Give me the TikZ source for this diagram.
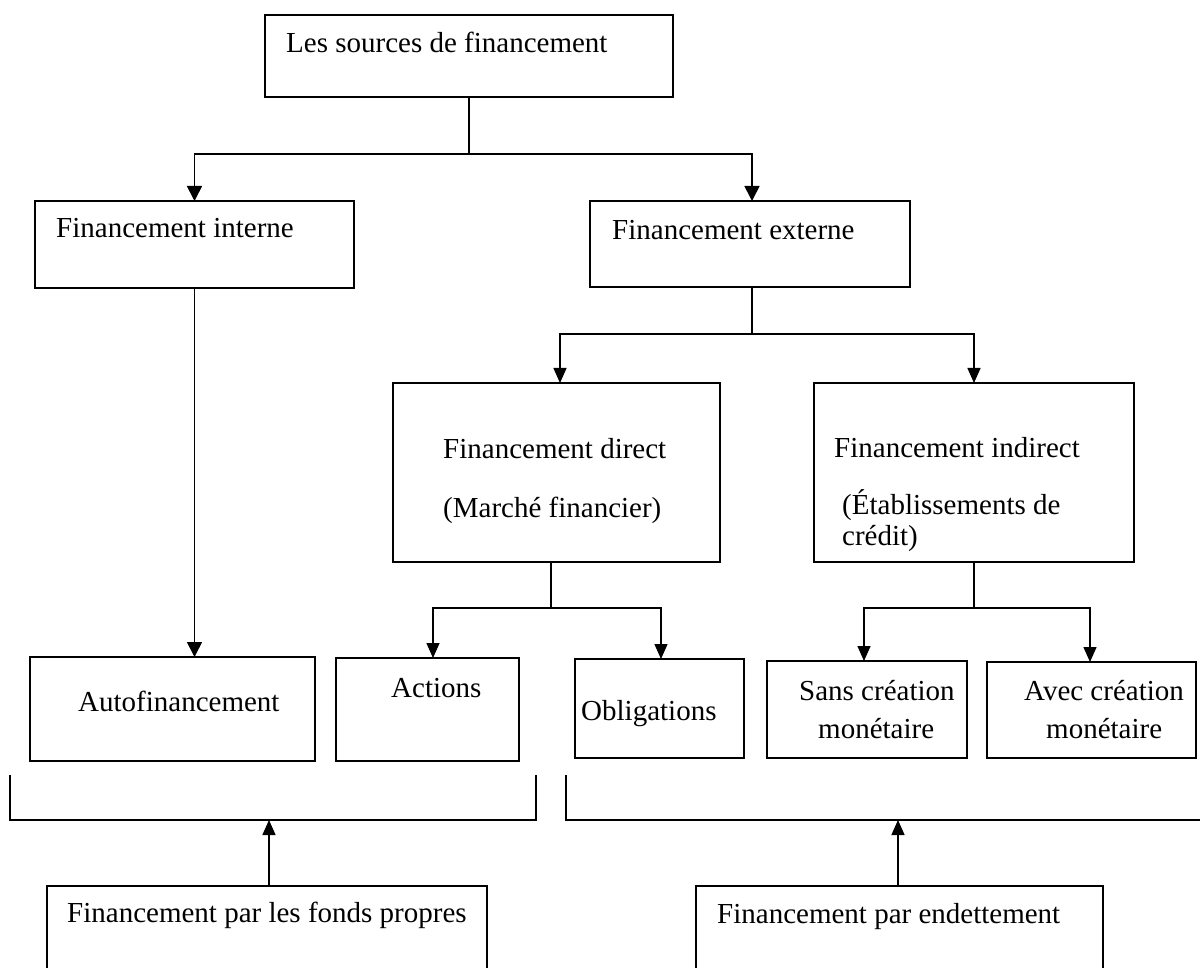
\documentclass[tikz,border=0pt]{standalone}
\usepackage{fontspec}
\setmainfont{Liberation Serif}
\usetikzlibrary{arrows.meta}
\begin{document}
\begin{tikzpicture}[x=1pt,y=-1pt,
  box/.style={draw,line width=1.6pt,rectangle,inner sep=0pt,outer sep=0pt},
  lbl/.style={anchor=base west,inner sep=0pt,font=\fontsize{29}{34}\selectfont},
  conn/.style={line width=1.4pt},
  arr/.style={conn,-{Triangle[width=13pt,length=15pt]}},
  bigarr/.style={line width=1.7pt,-{Triangle[width=15pt,length=15pt]}}]
\useasboundingbox (0,0) rectangle (1200,968);
\clip (0,0) rectangle (1200,968);

% boxes
\node[box,minimum width=408pt,minimum height=82pt]  (top)      at (469,56)     {};
\node[box,minimum width=319pt,minimum height=87pt]  (interne)  at (194.5,244.5) {};
\node[box,minimum width=320pt,minimum height=86pt]  (externe)  at (750,244)    {};
\node[box,minimum width=327pt,minimum height=179pt] (direct)   at (556.5,472.5) {};
\node[box,minimum width=320pt,minimum height=179pt] (indirect) at (974,472.5)  {};
\node[box,minimum width=285pt,minimum height=104pt] (autofin)  at (172.5,709)  {};
\node[box,minimum width=183pt,minimum height=103pt] (actions)  at (427.5,709.5) {};
\node[box,minimum width=169pt,minimum height=99pt]  (oblig)    at (659.5,708.5) {};
\node[box,minimum width=200pt,minimum height=97pt]  (sans)     at (867,709.5)  {};
\node[box,minimum width=209pt,minimum height=96pt]  (avec)     at (1091.5,710) {};
\node[box,minimum width=440pt,minimum height=114pt] (fonds)    at (267,943)    {};
\node[box,minimum width=407pt,minimum height=114pt] (endet)    at (899.5,943)  {};

% labels
\node[lbl] (ttop) at (286,53)  {Les sources de financement};
\node[lbl] (tint) at (56,238)  {Financement interne};
\node[lbl] (text) at (612,240) {Financement externe};
\node[lbl] (tdir1) at (443,458) {Financement direct};
\node[lbl] (tdir2) at (443,517) {(Marché financier)};
\node[lbl] (tind1) at (834,457) {Financement indirect};
\node[lbl] (tind2) at (842,514) {(Établissements de};
\node[lbl] (tind3) at (842,545) {crédit)};
\node[lbl] (taut) at (78,711)  {Autofinancement};
\node[lbl] (tact) at (391,697) {Actions};
\node[lbl] (tobl) at (581,720) {Obligations};
\node[lbl] (tsan1) at (799,700) {Sans création};
\node[lbl] (tsan2) at (818,738) {monétaire};
\node[lbl] (tave1) at (1024,700) {Avec création};
\node[lbl] (tave2) at (1046,738) {monétaire};
\node[lbl] (tfon) at (67,922)  {Financement par les fonds propres};
\node[lbl] (tend) at (717,923) {Financement par endettement};

% tree connectors
\coordinate (j1) at (469,154);
\draw[line width=1.7pt] (top.south) -- (j1);
\draw[bigarr] (j1) -| (interne.north);
\draw[bigarr] (j1) -| ([xshift=2pt]externe.north);
\draw[bigarr] (interne.south) -- (interne.south |- autofin.north);

\coordinate (j2) at (752,334);
\draw[conn] (j2 |- externe.south) -- (j2);
\draw[arr] (j2) -| ([xshift=3.5pt]direct.north);
\draw[arr] (j2) -| (indirect.north);

\coordinate (j3) at (551,608);
\draw[conn] (j3 |- direct.south) -- (j3);
\draw[arr] (j3) -| ([xshift=5.5pt]actions.north);
\draw[arr] (j3) -| ([xshift=1.5pt]oblig.north);

\coordinate (j4) at (974,608);
\draw[conn] (indirect.south) -- (j4);
\draw[arr] (j4) -| ([xshift=-3pt]sans.north);
\draw[arr] (j4) -| ([xshift=-1.5pt]avec.north);

% grouping brackets
\draw[conn] (10,775) -- (10,820) -- (536,820) -- (536,775);
\draw[conn] (566,775) -- (566,820) -- (1200,820);
\coordinate (b1) at (269,820);
\coordinate (b2) at (898,820);
\draw[arr] (fonds.north -| b1) -- (b1);
\draw[arr] (endet.north -| b2) -- (b2);
\end{tikzpicture}
\end{document}
